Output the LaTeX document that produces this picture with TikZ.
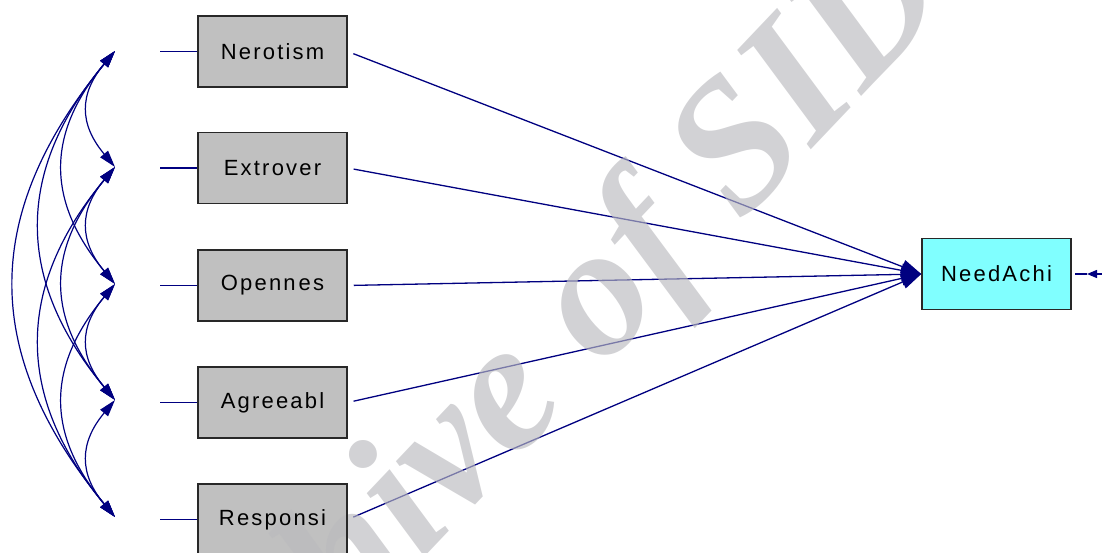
\documentclass[tikz,border=0pt]{standalone}
\usepackage{fontspec}
\setmainfont{Liberation Sans}
\newfontfamily\wmfont{Liberation Serif}
\usetikzlibrary{arrows.meta}
\definecolor{navyline}{RGB}{0,0,128}
\definecolor{boxgray}{RGB}{192,192,192}
\definecolor{cyanbox}{RGB}{128,255,255}
\definecolor{wmgray}{RGB}{186,186,190}
\definecolor{boxborder}{RGB}{40,40,40}
\pgfdeclarelayer{bg}
\pgfdeclarelayer{lines}
\pgfdeclarelayer{wm}
\pgfsetlayers{bg,lines,wm,main}
\begin{document}
\begin{tikzpicture}[x=1pt,y=-1pt,
  var/.style={draw=boxborder, line width=1.5pt, minimum width=149pt,
    minimum height=71pt, inner sep=0pt,
    font=\fontsize{22}{24}\selectfont\addfontfeatures{LetterSpace=10}},
  cov/.style={draw=navyline, line width=1.2pt,
    {Triangle[length=17pt,width=10pt]}-{Triangle[length=17pt,width=10pt]}},
  stub/.style={draw=navyline, line width=1.3pt},
  pth/.style={draw=navyline, line width=1.3pt, shorten <=6pt,
    -{Triangle[length=20pt,width=14pt]}},
  errl/.style={draw=navyline, line width=1.4pt}]
\useasboundingbox (0,0) rectangle (1102,553);
% observed variables (outline and text)
\node[var] (n1) at (272.5,51.5) {Nerotism};
\node[var] (n2) at (272.5,168) {Extrover};
\node[var] (n3) at (272.5,285.5) {Openn\kern3pt es};
\node[var] (n4) at (272.5,402.5) {Agreeabl};
\node[var] (n5) at (272.5,519.5) {Responsi};
\node[var] (need) at (996.5,274) {NeedAchi};
% box fills
\begin{pgfonlayer}{bg}
\foreach \n/\c in {n1/boxgray,n2/boxgray,n3/boxgray,n4/boxgray,n5/boxgray,need/cyanbox}
  {\fill[\c] (\n.south west) rectangle (\n.north east);}
\end{pgfonlayer}
% covariance end points
\coordinate (c1) at (115,51);
\coordinate (c2) at (115,167);
\coordinate (c3) at (115,284);
\coordinate (c4) at (115,400);
\coordinate (c5) at (115,517);
% stub starts
\coordinate (s1) at (160,51.5);
\coordinate (s2) at (160,168);
\coordinate (s3) at (160,285.5);
\coordinate (s4) at (160,402.5);
\coordinate (s5) at (160,519.5);
\coordinate (e) at (1102,274);
\coordinate (m) at (1087,274);
\begin{pgfonlayer}{lines}
\foreach \i in {1,...,5} {\draw[stub] (s\i) -- (n\i.west);}
% covariances
\draw[cov] (c1) .. controls +(-36,43) and +(-36,-43) .. (c2);
\draw[cov] (c2) .. controls +(-36,43) and +(-36,-43) .. (c3);
\draw[cov] (c3) .. controls +(-36,43) and +(-36,-43) .. (c4);
\draw[cov] (c4) .. controls +(-36,43) and +(-36,-43) .. (c5);
\draw[cov] (c1) .. controls +(-69,83) and +(-69,-83) .. (c3);
\draw[cov] (c2) .. controls +(-69,83) and +(-69,-83) .. (c4);
\draw[cov] (c3) .. controls +(-69,83) and +(-69,-83) .. (c5);
\draw[cov] (c1) .. controls +(-100,120) and +(-100,-120) .. (c4);
\draw[cov] (c2) .. controls +(-100,120) and +(-100,-120) .. (c5);
\draw[cov] (c1) .. controls +(-134,163) and +(-134,-163) .. (c5);
% regression paths
\foreach \i in {1,...,5} {\draw[pth] (n\i.east) -- (need.west);}
% error term
\draw[errl, -{Triangle[length=10pt,width=8pt]}] (e) -- (m);
\draw[errl, shorten >=3pt] (m) -- (need.east);
\end{pgfonlayer}
% watermark
\begin{pgfonlayer}{wm}
\begin{scope}
\clip (0,0) rectangle (1102,553);
\node[anchor=base west, rotate=46.5, inner sep=0pt, text=wmgray, opacity=0.65,
  font={\wmfont\bfseries\itshape\fontsize{186}{186}\selectfont}] (wm) at (158,838) {Archive of SID};
\end{scope}
\end{pgfonlayer}
\end{tikzpicture}
\end{document}
